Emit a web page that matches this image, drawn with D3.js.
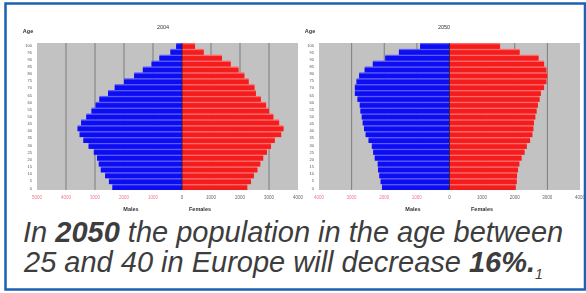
<!DOCTYPE html>
<html>
<head>
<meta charset="utf-8">
<script src="https://cdn.jsdelivr.net/npm/d3@7"></script>
<style>
  body { margin: 0; background: #fff; }
  svg { display: block; font-family: "Liberation Sans", Arial, sans-serif; }
</style>
</head>
<body>
<svg width="586" height="293"></svg>
<script>
// age groups, youngest first (4 year bands)
var ageGroups = ["0-3","4-7","8-11","12-15","16-19","20-23","24-27","28-31","32-35","36-39","40-43","44-47","48-51",
  "52-55","56-59","60-63","64-67","68-71","72-75","76-79","80-83","84-87","88-91","92-95","96-99"];
var ageTicks = [0,5,10,15,20,25,30,35,40,45,50,55,60,65,70,75,80,85,90,95,100];

// population, thousands
var males2004   = [2400,2520,2650,2800,2870,2930,3040,3220,3400,3530,3600,3480,3300,3120,2980,2850,2550,2320,2000,1650,1350,1050,780,400,200];
var females2004 = [2250,2380,2480,2600,2700,2800,2930,3070,3200,3420,3500,3350,3150,3000,2900,2720,2550,2500,2300,2150,1950,1680,1380,750,450];
var males2050   = [2070,2110,2150,2190,2200,2290,2340,2380,2480,2570,2620,2660,2690,2730,2750,2820,2900,2900,2850,2770,2600,2350,1970,1550,900];
var females2050 = [2030,2060,2070,2100,2140,2210,2300,2370,2470,2540,2570,2590,2630,2670,2710,2760,2800,2900,2970,3000,2970,2900,2730,2150,1550];

var ticks2004 = [-5000,-4000,-3000,-2000,-1000,0,1000,2000,3000,4000];
var ticks2050 = [-4000,-3000,-2000,-1000,0,1000,2000,3000,4000];

var svg = d3.select("svg");

// soft blur so the small chart looks like the scanned one
svg.append("defs").append("filter").attr("id", "soft")
  .append("feGaussianBlur").attr("stdDeviation", 0.55);

function pyramid(opt) {
  var g = svg.append("g").attr("filter", "url(#soft)");

  var x = d3.scaleLinear().domain(opt.domain).range(opt.xr);
  var y = d3.scaleBand().domain(ageGroups).range([190, 43]).paddingInner(0);
  var ya = d3.scaleLinear().domain([0, 100]).range([188, 45]);

  g.append("rect")
    .attr("x", opt.xr[0]).attr("y", 43)
    .attr("width", opt.xr[1] - opt.xr[0]).attr("height", 147)
    .attr("fill", "#c2c2c2");

  g.selectAll(".grid").data(opt.ticks.filter(function(d) { return d !== opt.domain[0] && d !== opt.domain[1]; }))
    .enter().append("line")
    .attr("x1", function(d) { return x(d); }).attr("x2", function(d) { return x(d); })
    .attr("y1", 43).attr("y2", 190)
    .attr("stroke", "#7d7d7d").attr("stroke-width", 1);

  var rows = ageGroups.map(function(a, i) { return { age: a, m: opt.males[i], f: opt.females[i] }; });

  // light full band then darker bar inside -> stripes
  var band = g.selectAll(".row").data(rows).enter().append("g");
  band.append("rect")
    .attr("x", function(d) { return x(-d.m); }).attr("y", function(d) { return y(d.age); })
    .attr("width", function(d) { return x(0) - x(-d.m); }).attr("height", y.bandwidth())
    .attr("fill", "#5a5aff");
  band.append("rect")
    .attr("x", function(d) { return x(-d.m); }).attr("y", function(d) { return y(d.age) + 1.3; })
    .attr("width", function(d) { return x(0) - x(-d.m); }).attr("height", y.bandwidth() - 1.3)
    .attr("fill", "#0c0cf2");
  band.append("rect")
    .attr("x", x(0)).attr("y", function(d) { return y(d.age); })
    .attr("width", function(d) { return x(d.f) - x(0); }).attr("height", y.bandwidth())
    .attr("fill", "#ff6a6a");
  band.append("rect")
    .attr("x", x(0)).attr("y", function(d) { return y(d.age) + 1.3; })
    .attr("width", function(d) { return x(d.f) - x(0); }).attr("height", y.bandwidth() - 1.3)
    .attr("fill", "#f41e1e");

  g.append("line")
    .attr("x1", x(0)).attr("x2", x(0)).attr("y1", 43).attr("y2", 190)
    .attr("stroke", "#222").attr("stroke-width", 0.8);

  // x tick labels, negatives shown in red
  g.selectAll(".xl").data(opt.ticks).enter().append("text")
    .attr("x", function(d) { return x(d); }).attr("y", 199)
    .attr("text-anchor", "middle").attr("font-size", 4.5)
    .attr("fill", function(d) { return d < 0 ? "#ee7a8a" : "#666"; })
    .text(function(d) { return Math.abs(d); });

  // age labels
  g.selectAll(".yl").data(ageTicks).enter().append("text")
    .attr("x", opt.xr[0] - 5).attr("y", function(d) { return ya(d) + 1.5; })
    .attr("text-anchor", "end").attr("font-size", 4)
    .attr("fill", "#555")
    .text(function(d) { return d; });

  g.append("text").attr("x", opt.xr[0] - 9).attr("y", 33)
    .attr("text-anchor", "middle").attr("font-size", 5.5).attr("font-weight", "bold")
    .attr("fill", "#333").text("Age");

  g.append("text").attr("x", opt.titleX).attr("y", 29)
    .attr("text-anchor", "middle").attr("font-size", 5.5)
    .attr("fill", "#333").text(opt.title);

  g.append("text").attr("x", opt.malesX).attr("y", 211)
    .attr("text-anchor", "middle").attr("font-size", 5.5).attr("font-weight", "bold")
    .attr("fill", "#333").text("Males");
  g.append("text").attr("x", opt.femalesX).attr("y", 211)
    .attr("text-anchor", "middle").attr("font-size", 5.5).attr("font-weight", "bold")
    .attr("fill", "#333").text("Females");
}

pyramid({ title: "2004", males: males2004, females: females2004, domain: [-5000, 4000], ticks: ticks2004,
  xr: [37, 298], titleX: 163, malesX: 131, femalesX: 200 });
pyramid({ title: "2050", males: males2050, females: females2050, domain: [-4000, 4000], ticks: ticks2050,
  xr: [319, 580], titleX: 444, malesX: 413, femalesX: 482 });

// frame
svg.append("path")
  .attr("d", "M586,3.5 L5.5,3.5 L5.5,289.5 L586,289.5")
  .attr("fill", "none").attr("stroke", "#1b62b3").attr("stroke-width", 2.5);
svg.append("line").attr("x1", 585).attr("x2", 585).attr("y1", 3.5).attr("y2", 289.5)
  .attr("stroke", "#1b62b3").attr("stroke-width", 2.5);

// caption
var cap = svg.append("g").attr("font-size", 29).attr("font-style", "italic").attr("fill", "#3d3d3d");
var l1 = cap.append("text").attr("x", 23).attr("y", 242);
l1.append("tspan").text("In ");
l1.append("tspan").attr("font-weight", "bold").text("2050");
l1.append("tspan").text(" the population in the age between");
var l2 = cap.append("text").attr("x", 24).attr("y", 272);
l2.append("tspan").text("25 and 40 in Europe will decrease ");
l2.append("tspan").attr("font-weight", "bold").text("16%.");
l2.append("tspan").attr("font-size", 14).attr("dy", 7).text("1");
</script>
</body>
</html>
